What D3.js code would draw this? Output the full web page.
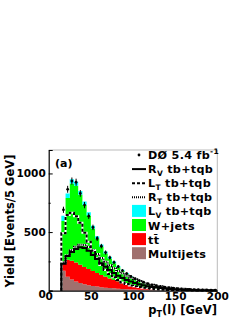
<!DOCTYPE html>
<html>
<head>
<meta charset="utf-8">
<script src="https://cdn.jsdelivr.net/npm/d3@7"></script>
<style>
  body { margin: 0; background: #fff; }
  svg text { font-family: "DejaVu Sans", sans-serif; font-weight: bold; fill: #000; }
</style>
</head>
<body>
<script>
// bin lower edges, 5 GeV wide
var binEdges = [15,20,25,30,35,40,45,50,55,60,65,70,75,80,85,90,95,100,105,110,
                115,120,125,130,135,140,145,150,155,160,165,170,175,180,185,190,195];
var binWidth = 5;

// stacked backgrounds (bottom -> top)
var multijets = [170,120,95,78,65,55,47,40,35,30,26,23,20,17,15,13,11,10,9,8,
                 7,6,5,5,4,4,3,3,3,2,2,2,2,1,1,1,1];
var ttbar = [80,145,160,162,157,148,138,127,115,104,93,82,72,63,54,46,39,32,26,21,
             17,14,12,9,8,6,5,4,3,3,2,1,1,1,1,1,0];
var wjets = [345,525,660,655,596,527,457,363,293,241,199,170,143,119,99,83,69,57,48,41,
             34,29,24,21,17,14,12,11,9,8,7,6,5,5,4,3,3];
var lvSignal = [45,40,35,35,32,30,28,25,22,20,17,15,13,11,10,8,7,6,5,4,
                4,3,3,2,2,2,2,1,1,1,1,1,1,1,1,1,1];

// overlay lines
var rvLine = [230,295,330,355,370,365,340,305,270,235,205,176,150,128,108,92,78,65,55,46,
              38,32,27,22,18,15,12,10,8,7,6,5,4,3,3,2,2];
var ltLine = [490,645,665,636,580,494,418,341,276,219,176,142,114,91,71,57,45,38,31,25,
              20,16,13,11,9,7,6,5,4,3,3,2,2,2,1,1,1];
var rtLine = [240,300,345,375,392,390,372,345,312,278,246,218,192,168,148,128,111,97,82,71,
              60,51,44,38,32,27,23,20,17,14,12,10,9,8,7,6,5];

// data
var dataCounts = [690,865,935,925,830,730,636,540,445,380,325,282,242,205,172,146,122,102,86,72,
                  60,50,43,36,30,26,22,18,15,13,11,10,8,7,6,5,5];

var xTicks = [0,50,100,150,200];
var yTicks = [0,500,1000];
var yMinorTicks = [250,750];

var legendLabels = ["DØ 5.4 fb", "R", "L", "R", "L", "W+jets", "tt\u0304", "Multijets"];

var width = 249, height = 323;
var svg = d3.select('body')
    .append('svg')
    .attr('width', width)
    .attr('height', height);

var xScale = d3.scaleLinear().domain([0, 200]).range([48.7, 217.3]);
var yScale = d3.scaleLinear().domain([0, 1200]).range([290.7, 150]);

// stack the backgrounds
var rows = binEdges.map(function(e, i) {
    return {edge: e, mj: multijets[i], tt: ttbar[i], wj: wjets[i], lv: lvSignal[i]};
});
// extra point at the right end so the last step is drawn
var last = rows[rows.length - 1];
rows.push({edge: 200, mj: last.mj, tt: last.tt, wj: last.wj, lv: last.lv});

var stack = d3.stack().keys(["mj", "tt", "wj", "lv"]);
var layers = stack(rows);
var fill = {mj: "#a0706e", tt: "#ff0000", wj: "#00ff00", lv: "#00ffff"};

var area = d3.area()
    .curve(d3.curveStepAfter)
    .x(function(d) { return xScale(d.data.edge); })
    .y0(function(d) { return yScale(d[0]); })
    .y1(function(d) { return yScale(d[1]); });

svg.append('g').selectAll('path')
    .data(layers)
  .enter().append('path')
    .attr('d', area)
    .attr('fill', function(d) { return fill[d.key]; })
    .attr('stroke', 'none');

function linePoints(vals) {
    var pts = [[binEdges[0], 0]];
    vals.forEach(function(v, i) { pts.push([binEdges[i], v]); });
    pts.push([200, vals[vals.length - 1]]);
    return pts;
}
var stepLine = d3.line()
    .curve(d3.curveStepAfter)
    .x(function(d) { return xScale(d[0]); })
    .y(function(d) { return yScale(d[1]); });

// dashed and dotted lines get a white underlay so gaps show white
svg.append('path').attr('d', stepLine(linePoints(rtLine)))
    .attr('fill', 'none').attr('stroke', '#fff').attr('stroke-width', 2);
svg.append('path').attr('d', stepLine(linePoints(rtLine)))
    .attr('fill', 'none').attr('stroke', '#000').attr('stroke-width', 2)
    .attr('stroke-dasharray', '1,1');
svg.append('path').attr('d', stepLine(linePoints(ltLine)))
    .attr('fill', 'none').attr('stroke', '#fff').attr('stroke-width', 2);
svg.append('path').attr('d', stepLine(linePoints(ltLine)))
    .attr('fill', 'none').attr('stroke', '#000').attr('stroke-width', 2)
    .attr('stroke-dasharray', '3,2');
svg.append('path').attr('d', stepLine(linePoints(rvLine)))
    .attr('fill', 'none').attr('stroke', '#000').attr('stroke-width', 2);

// data points with sqrt(N) errors
var pts = svg.append('g');
binEdges.forEach(function(e, i) {
    var xc = xScale(e + binWidth / 2);
    var n = dataCounts[i], err = Math.sqrt(n);
    pts.append('line')
        .attr('x1', xc).attr('x2', xc)
        .attr('y1', yScale(n - err)).attr('y2', yScale(n + err))
        .attr('stroke', '#000').attr('stroke-width', 1);
    pts.append('circle')
        .attr('cx', xc).attr('cy', yScale(n)).attr('r', 1.4)
        .attr('fill', '#000');
});

// frame
svg.append('line').attr('x1', 48.7).attr('x2', 217.3).attr('y1', 150).attr('y2', 150)
    .attr('stroke', '#bbb').attr('stroke-width', 1);
svg.append('line').attr('x1', 217.3).attr('x2', 217.3).attr('y1', 150).attr('y2', 290.7)
    .attr('stroke', '#bbb').attr('stroke-width', 1);

// axes
var yAxis = d3.axisLeft(yScale).tickValues(yTicks).tickSize(-4).tickPadding(3)
    .tickFormat(d3.format('d'));
var gy = svg.append('g').attr('transform', 'translate(48.7,0)').call(yAxis);
gy.select('.domain').attr('stroke', '#000').attr('stroke-width', 1.2);
gy.selectAll('text').style('font-size', '10.5px').style('font-family', '"DejaVu Sans", sans-serif')
    .style('font-weight', 'bold');
gy.selectAll('.tick').filter(function(d) { return d === 0; }).select('text').attr('dy', '0.6em');
svg.append('g').attr('transform', 'translate(48.7,0)')
    .call(d3.axisLeft(yScale).tickValues(yMinorTicks).tickSize(-2).tickFormat(''))
    .select('.domain').remove();

var xAxis = d3.axisBottom(xScale).tickValues(xTicks).tickSize(0).tickPadding(2);
var gx = svg.append('g').attr('transform', 'translate(0,290.7)').call(xAxis);
gx.select('.domain').attr('stroke', '#000').attr('stroke-width', 1.2);
gx.selectAll('text').style('font-size', '10.5px').style('font-family', '"DejaVu Sans", sans-serif')
    .style('font-weight', 'bold');

// axis titles
svg.append('text')
    .attr('transform', 'translate(14,221) rotate(-90)')
    .attr('text-anchor', 'middle')
    .style('font-size', '11.5px')
    .text('Yield [Events/5 GeV]');

var xt = svg.append('text')
    .attr('x', 217).attr('y', 314)
    .attr('text-anchor', 'end')
    .style('font-size', '11.5px');
xt.append('tspan').text('p');
xt.append('tspan').attr('dy', 3).style('font-size', '8px').text('T');
xt.append('tspan').attr('dy', -3).text('(l) [GeV]');

svg.append('text').attr('x', 55).attr('y', 167).style('font-size', '11px').text('(a)');

// legend
var legX = 132, legTextX = 148, legY0 = 159, legStep = 14.1;
var leg = svg.append('g');
legendLabels.forEach(function(lbl, i) {
    var by = legY0 + i * legStep;
    var t = leg.append('text').attr('x', legTextX).attr('y', by)
        .style('font-size', '11.2px').style('letter-spacing', '0.3px');
    t.append('tspan').text(lbl);
    if (i === 0) {
        t.append('tspan').attr('dy', -5).style('font-size', '7.5px').text('-1');
        leg.append('circle').attr('cx', legX + 7).attr('cy', by - 4).attr('r', 1.4).attr('fill', '#000');
    } else if (i >= 1 && i <= 4) {
        var sub = (i === 1 || i === 4) ? 'V' : 'T';
        t.append('tspan').attr('dy', 3).style('font-size', '7.5px').text(sub);
        t.append('tspan').attr('dy', -3).text(' tb+tqb');
    }
    if (i >= 1 && i <= 3) {
        var ly = by - 4;
        if (i > 1) {
            leg.append('line').attr('x1', legX).attr('x2', legX + 14).attr('y1', ly).attr('y2', ly)
                .attr('stroke', '#fff').attr('stroke-width', 2);
        }
        leg.append('line').attr('x1', legX).attr('x2', legX + 14).attr('y1', ly).attr('y2', ly)
            .attr('stroke', '#000').attr('stroke-width', 2)
            .attr('stroke-dasharray', i === 1 ? null : (i === 2 ? '3,2' : '1,1'));
    }
    if (i >= 4) {
        var key = ["lv", "wj", "tt", "mj"][i - 4];
        leg.append('rect').attr('x', legX).attr('y', by - 10.5).attr('width', 14).attr('height', 12)
            .attr('fill', fill[key]);
    }
});
</script>
</body>
</html>
